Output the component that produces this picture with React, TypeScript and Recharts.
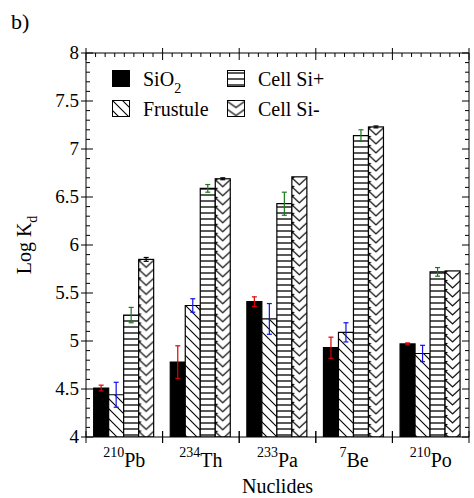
import React from 'react';
import { BarChart, Bar, XAxis, YAxis, ErrorBar, Legend, Label } from 'recharts';

const FONT = "'Liberation Serif', 'DejaVu Serif', 'Noto Serif', serif";

// layout
const WIDTH = 474;
const HEIGHT = 498;
const MARGIN = { top: 53, right: 5, bottom: 0, left: 0 };
const Y_AXIS_W = 86;
const X_AXIS_H = 61;
const PLOT = {
  left: MARGIN.left + Y_AXIS_W,
  top: MARGIN.top,
  right: WIDTH - MARGIN.right,
  bottom: HEIGHT - MARGIN.bottom - X_AXIS_H,
};

// nuclides along the x axis: mass number + element symbol
const masses = ['210', '234', '233', '7', '210'];
const elements = ['Pb', 'Th', 'Pa', 'Be', 'Po'];

// log Kd per sorbent, with +/- errors
const sio2 = [4.51, 4.78, 5.41, 4.93, 4.97];
const sio2Err = [0.03, 0.17, 0.05, 0.11, 0.01];
const frustule = [4.44, 5.37, 5.23, 5.09, 4.87];
const frustuleErr = [0.13, 0.07, 0.16, 0.1, 0.085];
const cellPlus = [5.27, 6.59, 6.43, 7.14, 5.72];
const cellPlusErr = [0.08, 0.04, 0.12, 0.06, 0.045];
const cellMinus = [5.85, 6.69, 6.71, 7.23, 5.73];
const cellMinusErr = [0.02, 0.01, 0, 0.01, 0];

const seriesNames = ['SiO2', 'Frustule', 'Cell Si+', 'Cell Si-'];

const yLabels = ['4', '4.5', '5', '5.5', '6', '6.5', '7', '7.5', '8'];
const yTicks = Array.from({ length: 41 }, (_, i) => (40 + i) / 10);
const minorPerGroup = 8;

const data = elements.map((el, i) => ({
  name: masses[i] + el,
  mass: masses[i],
  el,
  sio2: sio2[i],
  sio2Err: sio2Err[i],
  frustule: frustule[i],
  frustuleErr: frustuleErr[i],
  cellPlus: cellPlus[i],
  cellPlusErr: cellPlusErr[i],
  cellMinus: cellMinus[i],
  cellMinusErr: cellMinusErr[i],
}));

const isMajor = (v: number) => Math.abs(v * 2 - Math.round(v * 2)) < 1e-6;

const LeftTick = ({ x, y, payload }: any) => {
  const v = payload.value;
  if (!isMajor(v)) return <line x1={x} x2={x + 4} y1={y} y2={y} stroke="#000" />;
  const label = yLabels.find((s) => Math.abs(parseFloat(s) - v) < 1e-6);
  return (
    <g>
      <line x1={x - 5} x2={x + 7} y1={y} y2={y} stroke="#000" />
      <text x={x - 7} y={y} dy={6} textAnchor="end" style={{ fontFamily: FONT }} fontSize={19} fill="#000">
        {label}
      </text>
    </g>
  );
};

// label plus crossing marks on both edges of the category band
const NuclideTick = ({ x, y, payload }: any) => {
  const row = data.find((d) => d.name === payload.value);
  if (!row) return null;
  const half = payload.offset;
  return (
    <g>
      <line x1={x - half} x2={x - half} y1={y - 6} y2={y + 6} stroke="#000" />
      <line x1={x + half} x2={x + half} y1={y - 6} y2={y + 6} stroke="#000" />
      <text x={x} y={y + 30} textAnchor="middle" style={{ fontFamily: FONT }} fontSize={20} fill="#000">
        <tspan fontSize={14} dy={-10}>{row.mass}</tspan>
        <tspan dy={10}>{row.el}</tspan>
      </text>
    </g>
  );
};

// chevron fill, tiled from each bar's own corner so it lines up
const ZigzagBar = (props: any) => {
  const { x, y, width, height, index } = props;
  if (!height || height <= 0) return null;
  const id = `zz-bar-${index}`;
  const h = 9;
  return (
    <g>
      <defs>
        <pattern id={id} patternUnits="userSpaceOnUse" x={x} y={y} width={width} height={h}>
          <rect width={width} height={h} fill="#fff" />
          <path
            d={`M0,1 L${width / 2},${h - 1} L${width},1`}
            fill="none"
            stroke="#000"
            strokeWidth={1.1}
          />
          <path d="M0,0 L3,0 L0,3 Z" fill="#000" />
        </pattern>
      </defs>
      <rect x={x} y={y} width={width} height={height} fill={`url(#${id})`} stroke="#000" strokeWidth={1.2} />
    </g>
  );
};

const renderName = (name: string) =>
  name.split(/(\d+)/).map((part, i) =>
    /^\d+$/.test(part) ? (
      <span key={i} style={{ fontSize: 14, verticalAlign: -7, lineHeight: 0 }}>
        {part}
      </span>
    ) : (
      <span key={i}>{part}</span>
    )
  );

const LegendBox = ({ payload }: any) => {
  const items = (payload || [])
    .filter((p: any) => seriesNames.includes(p.value))
    .sort((a: any, b: any) => seriesNames.indexOf(a.value) - seriesNames.indexOf(b.value));
  return (
    <div
      style={{
        display: 'grid',
        gridTemplateRows: '30px 30px',
        gridTemplateColumns: '115px 115px',
        gridAutoFlow: 'column',
        fontFamily: FONT,
        fontSize: 20,
        color: '#000',
      }}
    >
      {items.map((entry: any) => (
        <div key={entry.value} style={{ display: 'flex', alignItems: 'center', height: 30 }}>
          <svg width={19} height={18} style={{ marginRight: 12 }}>
            <rect x={0.5} y={0.5} width={17} height={16} fill={entry.color} stroke="#000" />
          </svg>
          <span style={{ lineHeight: '20px' }}>{renderName(entry.value)}</span>
        </div>
      ))}
    </div>
  );
};

const YTitle = ({ viewBox }: any) => {
  const cx = viewBox.x + 31;
  const cy = viewBox.y + viewBox.height / 2;
  return (
    <text
      transform={`translate(${cx},${cy}) rotate(-90)`}
      textAnchor="middle"
      style={{ fontFamily: FONT }}
      fontSize={20}
      fill="#000"
    >
      Log K<tspan fontSize={14} dy={6}>d</tspan>
    </text>
  );
};

const XTitle = ({ viewBox }: any) => (
  <text
    x={viewBox.x + viewBox.width / 2}
    y={viewBox.y + viewBox.height - 5}
    textAnchor="middle"
    style={{ fontFamily: FONT }}
    fontSize={20}
    fill="#000"
  >
    Nuclides
  </text>
);

// top and right sides of the frame with their tick marks
const topMarks = Array.from({ length: data.length * minorPerGroup + 1 }, (_, k) => k);
const frameW = PLOT.right - PLOT.left;
const frameH = PLOT.bottom - PLOT.top;

export default function App() {
  return (
    <div style={{ position: 'absolute', left: 0, top: 0, background: '#fff', fontFamily: FONT }}>
      <BarChart
        width={WIDTH}
        height={HEIGHT}
        data={data}
        margin={MARGIN}
        barCategoryGap="10%"
        barGap={0}
      >
        <defs>
          <pattern id="hatch-diag" patternUnits="userSpaceOnUse" width={10} height={10}>
            <rect width={10} height={10} fill="#fff" />
            <path d="M0,0 L10,10 M-3,7 L3,13 M7,-3 L13,3" stroke="#000" strokeWidth={1.1} />
          </pattern>
          <pattern id="hatch-horiz" patternUnits="userSpaceOnUse" width={8} height={6}>
            <rect width={8} height={6} fill="#fff" />
            <path d="M0,3 L8,3" stroke="#000" strokeWidth={1.3} />
          </pattern>
          <pattern id="hatch-zigzag" patternUnits="userSpaceOnUse" width={17} height={8} x={0.5} y={0.5}>
            <rect width={17} height={8} fill="#fff" />
            <path d="M0,1 L8.5,7 L17,1" fill="none" stroke="#000" strokeWidth={1.1} />
          </pattern>
        </defs>

        <text x={11} y={29} style={{ fontFamily: FONT }} fontSize={22} fill="#000">
          b)
        </text>

        <g className="frame">
          <line x1={PLOT.left} x2={PLOT.right} y1={PLOT.top} y2={PLOT.top} stroke="#000" />
          <line x1={PLOT.right} x2={PLOT.right} y1={PLOT.top} y2={PLOT.bottom} stroke="#000" />
          {topMarks.map((k) => {
            const mx = PLOT.left + (k * frameW) / (topMarks.length - 1);
            const major = k % minorPerGroup === 0;
            return (
              <line
                key={`t${k}`}
                x1={mx}
                x2={mx}
                y1={major ? PLOT.top - 5 : PLOT.top}
                y2={PLOT.top + (major ? 7 : 4)}
                stroke="#000"
              />
            );
          })}
          {yTicks.map((v, k) => {
            const my = PLOT.bottom - (k * frameH) / (yTicks.length - 1);
            return (
              <line
                key={`r${k}`}
                x1={PLOT.right}
                x2={PLOT.right - (isMajor(v) ? 7 : 4)}
                y1={my}
                y2={my}
                stroke="#000"
              />
            );
          })}
        </g>

        <XAxis
          xAxisId="x"
          dataKey="name"
          height={X_AXIS_H}
          interval={0}
          axisLine={{ stroke: '#000' }}
          tickLine={false}
          tickSize={0}
          tickMargin={0}
          tick={<NuclideTick />}
        >
          <Label content={<XTitle />} />
        </XAxis>
        <YAxis
          yAxisId="y"
          type="number"
          domain={[4, 8]}
          allowDataOverflow
          ticks={yTicks}
          interval={0}
          width={Y_AXIS_W}
          axisLine={{ stroke: '#000' }}
          tickLine={false}
          tickSize={0}
          tickMargin={0}
          tick={<LeftTick />}
        >
          <Label content={<YTitle />} />
        </YAxis>

        <Legend
          layout="vertical"
          align="center"
          verticalAlign="middle"
          wrapperStyle={{ left: 112, top: 64, width: 240, height: 60 }}
          content={<LegendBox />}
        />

        <Bar xAxisId="x" yAxisId="y" dataKey="sio2" name="SiO2" fill="#000" stroke="#000" strokeWidth={1.2} isAnimationActive={false}>
          <ErrorBar dataKey="sio2Err" stroke="#e00000" width={2.5} strokeWidth={1.2} />
        </Bar>
        <Bar xAxisId="x" yAxisId="y" dataKey="frustule" name="Frustule" fill="url(#hatch-diag)" stroke="#000" strokeWidth={1.2} isAnimationActive={false}>
          <ErrorBar dataKey="frustuleErr" stroke="#1010ee" width={2.5} strokeWidth={1.2} />
        </Bar>
        <Bar xAxisId="x" yAxisId="y" dataKey="cellPlus" name="Cell Si+" fill="url(#hatch-horiz)" stroke="#000" strokeWidth={1.2} isAnimationActive={false}>
          <ErrorBar dataKey="cellPlusErr" stroke="#1a7a1a" width={2.5} strokeWidth={1.2} />
        </Bar>
        <Bar xAxisId="x" yAxisId="y" dataKey="cellMinus" name="Cell Si-" fill="url(#hatch-zigzag)" shape={<ZigzagBar />} isAnimationActive={false}>
          <ErrorBar dataKey="cellMinusErr" stroke="#000" width={2.5} strokeWidth={1.2} />
        </Bar>
      </BarChart>
    </div>
  );
}
